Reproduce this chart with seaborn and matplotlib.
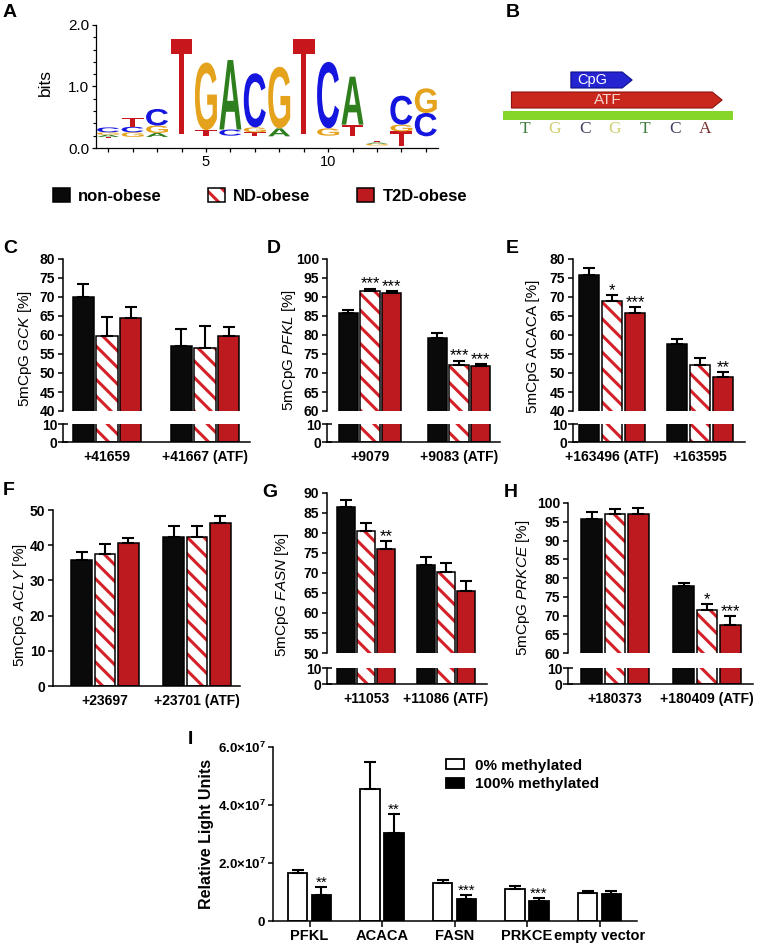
import numpy as np
import pandas as pd
import seaborn as sns
import matplotlib
import matplotlib.pyplot as plt
from matplotlib.patches import Patch, Rectangle, Polygon, PathPatch
from matplotlib.textpath import TextPath
from matplotlib.font_manager import FontProperties
from matplotlib.transforms import Affine2D
from matplotlib.legend_handler import HandlerTuple
from matplotlib.ticker import MultipleLocator

matplotlib.use("Agg")

# ---------------- data ----------------
groups = ["non-obese", "ND-obese", "T2D-obese"]

# A: motif logo, per position stack from bottom to top (letter, bits)
logo_base = [0.16, 0.18, 0.18, 0.22, 0.19, 0.20, 0.19, 0.19, 0.22, 0.20, 0.19, 0.04, 0.04, 0.19]
logo_stacks = [
    [("T", 0.02), ("A", 0.035), ("G", 0.04), ("C", 0.08)],
    [("G", 0.075), ("C", 0.09), ("T", 0.15)],
    [("A", 0.065), ("G", 0.12), ("C", 0.27)],
    [("T", 1.56)],
    [("T", 0.10), ("G", 1.10)],
    [("C", 0.10), ("A", 1.13)],
    [("T", 0.065), ("G", 0.08), ("C", 0.88)],
    [("A", 0.13), ("G", 1.00)],
    [("T", 1.56)],
    [("G", 0.12), ("C", 1.08)],
    [("T", 0.19), ("A", 0.78)],
    [("G", 0.03), ("A", 0.02), ("T", 0.025)],
    [("T", 0.23), ("G", 0.11), ("C", 0.47)],
    [("C", 0.38), ("G", 0.40)],
]

# B: sequence and annotated features (nucleotide index units)
seq = list("TGCGTCA")
atf_span = (-0.45, 6.57)
cpg_span = (1.53, 3.57)

# C-H: DNA methylation, rows = CpG sites, cols = groups
gck_sites = ["+41659", "+41667 (ATF)"]
gck_mean = [[70.0, 59.8, 64.6], [57.2, 56.5, 59.7]]
gck_sem = [[3.5, 5.0, 2.7], [4.3, 5.8, 2.3]]
gck_sig = [["", "", ""], ["", "", ""]]

pfkl_sites = ["+9079", "+9083 (ATF)"]
pfkl_mean = [[85.8, 91.5, 91.0], [79.3, 72.2, 71.8]]
pfkl_sem = [[0.9, 0.7, 0.6], [1.1, 1.0, 0.6]]
pfkl_sig = [["", "***", "***"], ["", "***", "***"]]

acaca_sites = ["+163496 (ATF)", "+163595"]
acaca_mean = [[75.7, 69.0, 65.7], [57.6, 52.0, 49.0]]
acaca_sem = [[1.8, 1.5, 1.6], [1.4, 1.9, 1.3]]
acaca_sig = [["", "*", "***"], ["", "", "**"]]

acly_sites = ["+23697", "+23701 (ATF)"]
acly_mean = [[35.8, 37.6, 40.7], [42.3, 42.3, 46.4]]
acly_sem = [[2.4, 2.7, 1.3], [3.1, 3.1, 1.8]]
acly_sig = [["", "", ""], ["", "", ""]]

fasn_sites = ["+11053", "+11086 (ATF)"]
fasn_mean = [[86.5, 80.6, 75.9], [72.0, 70.2, 65.5]]
fasn_sem = [[1.8, 1.9, 2.1], [2.0, 2.2, 2.5]]
fasn_sig = [["", "", "**"], ["", "", ""]]

prkce_sites = ["+180373", "+180409 (ATF)"]
prkce_mean = [[95.8, 97.1, 97.0], [77.9, 71.6, 67.6]]
prkce_sem = [[1.7, 1.2, 1.7], [0.7, 1.4, 2.3]]
prkce_sig = [["", "", ""], ["", "*", "***"]]

# I: luciferase assay
constructs = ["PFKL", "ACACA", "FASN", "PRKCE", "empty vector"]
states = ["0% methylated", "100% methylated"]
rlu_mean = [[1.65e7, 0.90e7], [4.55e7, 3.05e7], [1.30e7, 0.75e7], [1.12e7, 0.70e7], [0.98e7, 0.93e7]]
rlu_sem = [[0.10e7, 0.27e7], [0.95e7, 0.65e7], [0.12e7, 0.15e7], [0.08e7, 0.08e7], [0.07e7, 0.12e7]]
rlu_sig = [["", "**"], ["", "**"], ["", "***"], ["", "***"], ["", ""]]

# ---------------- style ----------------
sns.set_style("ticks", {"axes.edgecolor": "black", "xtick.color": "black", "ytick.color": "black",
                        "text.color": "black", "axes.labelcolor": "black"})
plt.rcParams["font.family"] = ["Liberation Sans", "DejaVu Sans"]
plt.rcParams["mathtext.fontset"] = "custom"
plt.rcParams["mathtext.rm"] = "Liberation Sans:bold"
plt.rcParams["mathtext.it"] = "Liberation Sans:italic"
plt.rcParams["hatch.linewidth"] = 2.2
plt.rcParams["axes.linewidth"] = 1.1
plt.rcParams["xtick.major.width"] = 1.1
plt.rcParams["ytick.major.width"] = 1.1
plt.rcParams["xtick.major.size"] = 3.5
plt.rcParams["ytick.major.size"] = 3.5

W, H = 761, 946
t2d_red = "#bd1a1f"
stripe_red = "#d42127"
stripe = "\\\\"
group_colors = ["#0a0a0a", "white", t2d_red]
base_colors = {"A": "#2f7f1f", "C": "#1515e0", "G": "#e5a21c", "T": "#c8161d"}
tick_fs = 10


def px_box(x0, y0, x1, y1):
    return [x0 / W, 1 - y1 / H, (x1 - x0) / W, (y1 - y0) / H]


def fig_xy(x, y):
    return x / W, 1 - y / H


fig = plt.figure(figsize=(W / 100, H / 100), dpi=100)

# ---------------- A: sequence logo ----------------
logo_font = FontProperties(family="Liberation Sans", weight="bold")


def draw_letter(ax, letter, xc, y0, h, w, color):
    tp = TextPath((0, 0), letter, size=1, prop=logo_font)
    bb = tp.get_extents()
    tr = Affine2D().translate(-bb.x0, -bb.y0).scale(w / bb.width, h / bb.height).translate(xc - w / 2, y0)
    ax.add_patch(PathPatch(tr.transform_path(tp), fc=color, ec="none", lw=0))


ax_a = fig.add_axes(px_box(96, 25, 438, 148))
for i, (base, stack) in enumerate(zip(logo_base, logo_stacks)):
    y = base
    for letter, h in stack:
        draw_letter(ax_a, letter, i + 1, y, h, 0.9, base_colors[letter])
        y += h
ax_a.set_xlim(0.5, 14.5)
ax_a.set_ylim(0, 2)
ax_a.spines[["top", "right"]].set_visible(False)
for s in ["left", "bottom"]:
    ax_a.spines[s].set_linewidth(0.9)
ax_a.set_xticks(range(1, 15), ["5" if k == 5 else "10" if k == 10 else "" for k in range(1, 15)], fontsize=10.5)
ax_a.set_yticks([0, 1, 2], ["0.0", "1.0", "2.0"], fontsize=11)
ax_a.yaxis.set_minor_locator(MultipleLocator(0.2))
ax_a.tick_params(axis="both", width=0.9, length=3, pad=2)
ax_a.tick_params(axis="y", which="minor", width=0.8, length=2)
fig.text(*fig_xy(45, 82), "bits", rotation=90, ha="center", va="center", fontsize=12.5)

# ---------------- B: feature map ----------------
ax_b = fig.add_axes(px_box(503, 65, 733, 140))
ax_b.set_xlim(-0.733, 6.933)
ax_b.set_ylim(140, 65)
ax_b.axis("off")
ax_b.add_patch(Rectangle((-0.733, 111), 7.7, 9, fc="#86d62a", ec="none"))


def feature_arrow(ax, span, y_top, y_bot, color, edge):
    x0, x1 = span
    tip = 0.33
    pts = [(x0, y_top), (x1 - tip, y_top), (x1, (y_top + y_bot) / 2), (x1 - tip, y_bot), (x0, y_bot)]
    ax.add_patch(Polygon(pts, closed=True, fc=color, ec=edge, lw=0.8, joinstyle="round"))


feature_arrow(ax_b, atf_span, 92, 108, "#c9261c", "#8e1410")
feature_arrow(ax_b, cpg_span, 72, 88, "#2424d0", "#10108a")
ax_b.text(2.75, 100, "ATF", color="#f5d5cc", ha="center", va="center", fontsize=11)
ax_b.text(2.25, 80, "CpG", color="white", ha="center", va="center", fontsize=10.5)
seq_colors = {"T": "#3e7a3e", "G": "#cfcf70", "C": "#404060", "A": "#7a3030"}
for i, nt in enumerate(seq):
    ax_b.text(i, 129, nt, color=seq_colors[nt], ha="center", va="center", fontsize=12.5,
              family="Liberation Serif")

# ---------------- group legend ----------------
leg_handles = [Patch(fc="#0a0a0a", ec="black", lw=1.1),
               (Patch(fc="white", ec=stripe_red, hatch=stripe, lw=0), Patch(fill=False, ec="black", lw=1.1)),
               Patch(fc=t2d_red, ec="black", lw=1.1)]
fig.legend(leg_handles, groups, loc="center", bbox_to_anchor=fig_xy(260, 196), ncol=3, frameon=False,
           prop=dict(weight="bold", size=12), handlelength=1.0, handleheight=0.9, handletextpad=0.5,
           columnspacing=2.8, borderpad=0, handler_map={tuple: HandlerTuple(ndivide=1)})


# ---------------- C-H ----------------
def draw_bars(ax, sites, mean, width):
    df = pd.DataFrame({"site": np.repeat(sites, len(groups)),
                       "group": groups * len(sites),
                       "value": np.ravel(mean)})
    sns.barplot(data=df, x="site", y="value", hue="group", order=sites, hue_order=groups,
                palette=group_colors, saturation=1, width=width, gap=0.11,
                edgecolor="black", linewidth=1.1, errorbar=None, legend=False, ax=ax)
    for p in ax.containers[1]:
        ax.add_patch(Rectangle(p.get_xy(), p.get_width(), p.get_height(), fill=False, ec="black",
                               lw=1.1, zorder=p.get_zorder() + 0.1))
        p.set_hatch(stripe)
        p.set_edgecolor(stripe_red)
        p.set_linewidth(0)
    ax.set_xlabel("")
    ax.set_ylabel("")


def add_err(ax, mean, sem, sig, star_size=12):
    for j in range(len(ax.containers)):
        for i, p in enumerate(ax.containers[j]):
            xc = p.get_x() + p.get_width() / 2
            ax.errorbar(xc, mean[i][j], yerr=[[0], [sem[i][j]]], fmt="none", ecolor="black",
                        elinewidth=1.5, capsize=4, capthick=1.5, zorder=3)
            if sig[i][j]:
                ax.annotate(sig[i][j], (xc, mean[i][j] + sem[i][j]), xytext=(0, -2),
                            textcoords="offset points", ha="center", va="bottom", fontsize=star_size)


panels = [
    dict(tag="C", sites=gck_sites, mean=gck_mean, sem=gck_sem, sig=gck_sig,
         ylabel=r"5mCpG $\mathit{GCK}$ [%]", yr=(40, 80), x=(63, 250), centers=(107, 205), span=71,
         upper=(259, 411), lower=(424, 442), lab=(25, 349), tag_xy=(3, 240)),
    dict(tag="D", sites=pfkl_sites, mean=pfkl_mean, sem=pfkl_sem, sig=pfkl_sig,
         ylabel=r"5mCpG $\mathit{PFKL}$ [%]", yr=(60, 100), x=(327, 500), centers=(370, 459), span=65,
         upper=(259, 411), lower=(424, 442), lab=(289, 350), tag_xy=(267, 240)),
    dict(tag="E", sites=acaca_sites, mean=acaca_mean, sem=acaca_sem, sig=acaca_sig,
         ylabel="5mCpG ACACA [%]", yr=(40, 80), x=(573, 745), centers=(612, 700), span=69,
         upper=(259, 411), lower=(424, 442), lab=(533, 346), tag_xy=(506, 240)),
    dict(tag="F", sites=acly_sites, mean=acly_mean, sem=acly_sem, sig=acly_sig,
         ylabel=r"5mCpG $\mathit{ACLY}$ [%]", yr=(0, 50), x=(53, 240), centers=(105, 197), span=70,
         upper=(510, 686), lower=None, lab=(20, 605), tag_xy=(3, 482)),
    dict(tag="G", sites=fasn_sites, mean=fasn_mean, sem=fasn_sem, sig=fasn_sig,
         ylabel=r"5mCpG $\mathit{FASN}$ [%]", yr=(50, 90), x=(327, 487), centers=(366, 446), span=61,
         upper=(493, 653), lower=(668, 684), lab=(282, 595), tag_xy=(262, 484)),
    dict(tag="H", sites=prkce_sites, mean=prkce_mean, sem=prkce_sem, sig=prkce_sig,
         ylabel=r"5mCpG $\mathit{PRKCE}$ [%]", yr=(60, 100), x=(568, 753), centers=(615, 707), span=70,
         upper=(503, 653), lower=(668, 684), lab=(523, 588), tag_xy=(504, 484)),
]

for pnl in panels:
    c0, c1 = pnl["centers"]
    u = c1 - c0
    xl = ((pnl["x"][0] - c0) / u, (pnl["x"][1] - c0) / u)
    width = pnl["span"] / u
    lo, hi = pnl["yr"]
    step = 10 if hi - lo == 50 else 5
    ticks = list(range(lo, hi + 1, step))

    ax_u = fig.add_axes(px_box(pnl["x"][0], pnl["upper"][0], pnl["x"][1], pnl["upper"][1]))
    draw_bars(ax_u, pnl["sites"], pnl["mean"], width)
    add_err(ax_u, pnl["mean"], pnl["sem"], pnl["sig"])
    ax_u.set_xlim(xl)
    ax_u.set_ylim(lo, hi)
    ax_u.set_yticks(ticks, [str(t) for t in ticks], fontweight="bold", fontsize=tick_fs)
    ax_u.tick_params(axis="y", pad=2)
    ax_u.spines[["top", "right"]].set_visible(False)

    if pnl["lower"] is None:
        ax_x = ax_u
    else:
        ax_u.spines["bottom"].set_visible(False)
        ax_u.tick_params(axis="x", bottom=False, labelbottom=False)
        ax_x = fig.add_axes(px_box(pnl["x"][0], pnl["lower"][0], pnl["x"][1], pnl["lower"][1]))
        draw_bars(ax_x, pnl["sites"], pnl["mean"], width)
        ax_x.set_xlim(xl)
        ax_x.set_ylim(0, 10)
        ax_x.set_yticks([0, 10], ["0", "10"], fontweight="bold", fontsize=tick_fs)
        ax_x.spines[["top", "right"]].set_visible(False)
        ax_x.tick_params(axis="y", direction="inout", length=7, pad=0.5)
    ax_x.set_xticks(range(len(pnl["sites"])), pnl["sites"], fontweight="bold", fontsize=tick_fs)
    ax_x.tick_params(axis="x", length=0, pad=6)

    fig.text(*fig_xy(*pnl["lab"]), pnl["ylabel"], rotation=90, ha="center", va="center", fontsize=11)

# ---------------- I: luciferase ----------------
ax_i = fig.add_axes(px_box(273, 747, 637, 921))
lucif = pd.DataFrame({"construct": np.repeat(constructs, len(states)),
                      "state": states * len(constructs),
                      "rlu": np.ravel(rlu_mean)})
sns.barplot(data=lucif, x="construct", y="rlu", hue="state", order=constructs, hue_order=states,
            palette=["white", "black"], saturation=1, width=0.65, gap=0.17, edgecolor="black",
            linewidth=1.3, errorbar=None, legend=False, ax=ax_i)
add_err(ax_i, rlu_mean, rlu_sem, rlu_sig, star_size=11)
ci0, ci1 = 309.5, 382.0
ui = ci1 - ci0
ax_i.set_xlim((273 - ci0) / ui, (637 - ci0) / ui)
ax_i.set_ylim(0, 6e7)
ax_i.set_yticks([0, 2e7, 4e7, 6e7], ["0", "2.0×10$^{7}$", "4.0×10$^{7}$", "6.0×10$^{7}$"],
                fontweight="bold", fontsize=9.5)
ax_i.set_xticks(range(len(constructs)), constructs, fontweight="bold", fontsize=10.5)
ax_i.tick_params(axis="x", length=4, pad=2)
ax_i.tick_params(axis="y", pad=2)
ax_i.spines[["top", "right"]].set_visible(False)
ax_i.set_xlabel("")
ax_i.set_ylabel("")
fig.text(*fig_xy(207, 834), "Relative Light Units", rotation=90, ha="center", va="center",
         fontsize=11.5, fontweight="bold")
fig.legend([Patch(fc="white", ec="black", lw=1.3), Patch(fc="black", ec="black", lw=1.3)], states,
           loc="upper left", bbox_to_anchor=fig_xy(438, 751), frameon=False, borderpad=0,
           prop=dict(weight="bold", size=11), handlelength=1.2, handleheight=0.65,
           handletextpad=0.7, labelspacing=0.3)

# ---------------- panel tags ----------------
tags = [("A", 3, 4), ("B", 506, 4)] + [(p["tag"], *p["tag_xy"]) for p in panels] + [("I", 188, 731)]
for t, x, y in tags:
    fig.text(*fig_xy(x, y), t, ha="left", va="top", fontsize=14, fontweight="bold")

fig.savefig("out.png", dpi=100)
